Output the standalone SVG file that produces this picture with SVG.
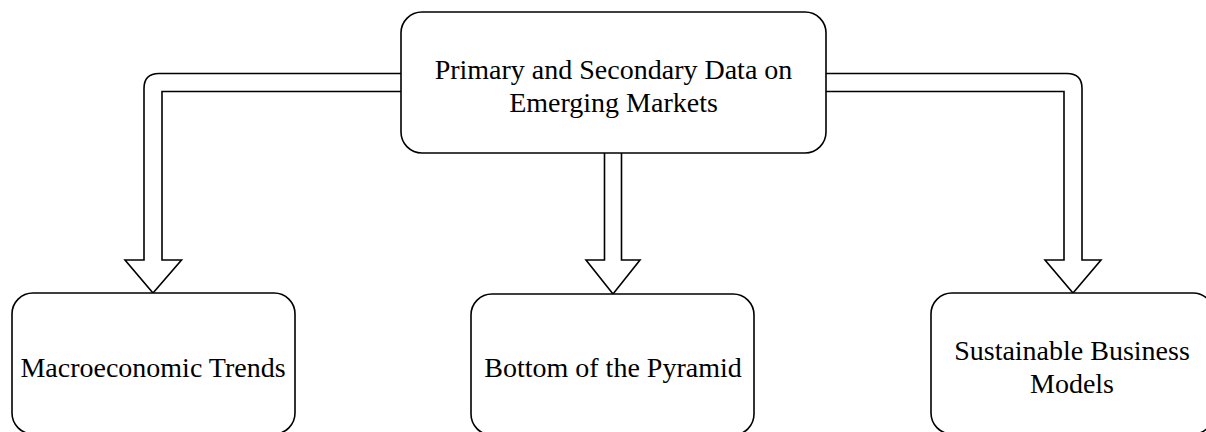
<svg xmlns="http://www.w3.org/2000/svg" width="1206" height="432" viewBox="0 0 1206 432">
  <style>
    .box { fill: #ffffff; stroke: #000000; stroke-width: 1.6; }
    .flow { fill: #ffffff; stroke: #000000; stroke-width: 1.6; stroke-linejoin: miter; }
    .label { font-family: "Liberation Serif", "Times New Roman", serif; font-size: 28px; fill: #000000; text-anchor: middle; }
  </style>
  <rect width="1206" height="432" fill="#ffffff"/>

  <!-- hollow block arrows from the source node to the three topics -->
  <g id="connectors">
    <path class="flow" d="M 401 73.5 L 159 73.5 Q 144 73.5 144 88.5 L 144 260 L 125 260 L 153 293 L 181.5 260 L 162 260 L 162 91.5 L 401 91.5"/>
    <path class="flow" d="M 604.5 153 L 604.5 260 L 586 260 L 613 294 L 640 260 L 621.5 260 L 621.5 153"/>
    <path class="flow" d="M 826 73.5 L 1067 73.5 Q 1082 73.5 1082 88.5 L 1082 260 L 1101 260 L 1073 293 L 1045 260 L 1064 260 L 1064 91.5 L 826 91.5"/>
  </g>

  <g id="node-source">
    <rect class="box" x="401" y="12" width="425" height="141" rx="21" ry="21"/>
    <text class="label" x="613.5" y="78.5">Primary and Secondary Data on</text>
    <text class="label" x="613.5" y="111.5">Emerging Markets</text>
  </g>

  <g id="node-macro">
    <rect class="box" x="12" y="293" width="283" height="141" rx="21" ry="21"/>
    <text class="label" x="153" y="377">Macroeconomic Trends</text>
  </g>

  <g id="node-bop">
    <rect class="box" x="471" y="294" width="283" height="141" rx="21" ry="21"/>
    <text class="label" x="613" y="377">Bottom of the Pyramid</text>
  </g>

  <g id="node-sustainable">
    <rect class="box" x="931" y="293" width="283" height="141" rx="21" ry="21"/>
    <text class="label" x="1072" y="359.5">Sustainable Business</text>
    <text class="label" x="1072" y="392.5">Models</text>
  </g>
</svg>
